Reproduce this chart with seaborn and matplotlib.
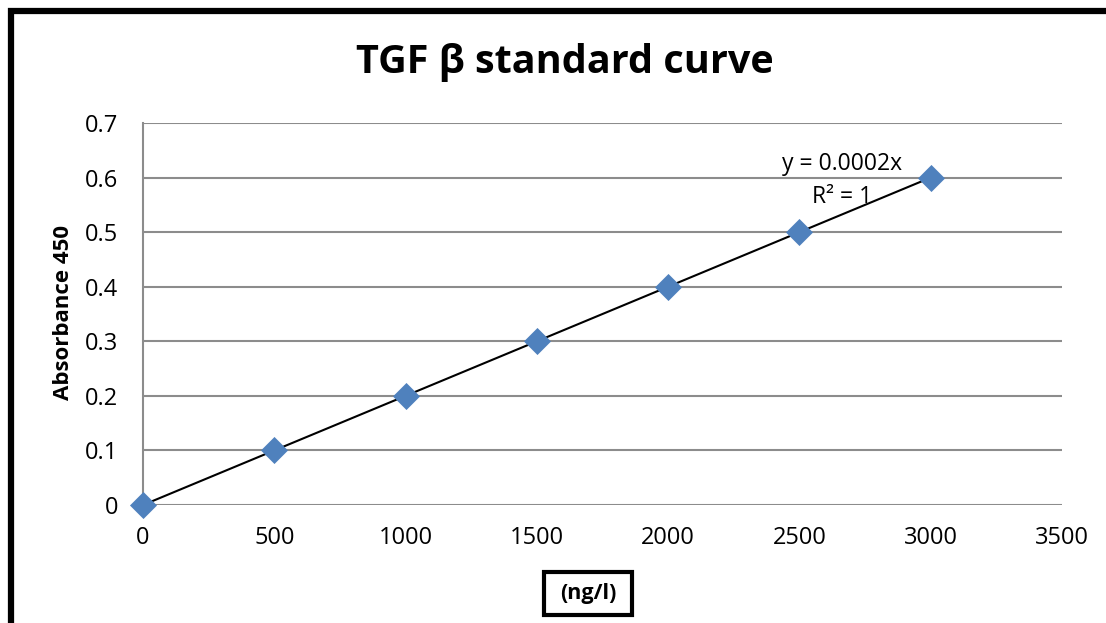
import numpy as np
import pandas as pd
import matplotlib
matplotlib.use("Agg")
import matplotlib.pyplot as plt
import seaborn as sns
from matplotlib.patches import Rectangle

concentration = [0, 500, 1000, 1500, 2000, 2500, 3000]
absorbance = [0, 0.1, 0.2, 0.3, 0.4, 0.5, 0.6]
x_ticks = [0, 500, 1000, 1500, 2000, 2500, 3000, 3500]
y_ticks = [0, 0.1, 0.2, 0.3, 0.4, 0.5, 0.6, 0.7]
y_tick_labels = ["0", "0.1", "0.2", "0.3", "0.4", "0.5", "0.6", "0.7"]

sns.set_theme(style="white")
plt.rcParams["font.family"] = ["Open Sans", "DejaVu Sans"]
plt.rcParams["text.color"] = "black"

df = pd.DataFrame({"conc": concentration, "abs": absorbance})

W, H = 1106, 623
fig = plt.figure(figsize=(W / 100, H / 100), dpi=100)
ax = fig.add_axes([143/W, 1-505/H, (1062-143)/W, (505-123)/H])

# outer chart frame (extends beyond the image on right/bottom)
fig.patches.append(Rectangle((10.5/W, -0.05), 1.2, 1 - 10.5/H + 0.05,
                             transform=fig.transFigure, fill=False,
                             edgecolor="black", linewidth=4.5, zorder=10))

# linear trendline through origin
slope = np.sum(np.array(concentration) * np.array(absorbance)) / np.sum(np.array(concentration) ** 2)
fit = pd.DataFrame({"conc": [min(concentration), max(concentration)]})
fit["abs"] = slope * fit["conc"]
sns.lineplot(data=fit, x="conc", y="abs", ax=ax, color="black", linewidth=1.5, zorder=3)

sns.scatterplot(data=df, x="conc", y="abs", ax=ax, marker="D", s=190,
                color="#4F81BD", edgecolor="#4F81BD", linewidth=0, zorder=4, clip_on=False)

ax.set_xlim(0, 3500)
ax.set_ylim(0, 0.7)
ax.set_xticks(x_ticks)
ax.set_xticklabels([str(t) for t in x_ticks])
ax.set_yticks(y_ticks)
ax.set_yticklabels(y_tick_labels)
ax.tick_params(axis="both", labelsize=17, length=0, colors="black")
ax.tick_params(axis="x", pad=15)
ax.tick_params(axis="y", pad=18)

ax.grid(axis="y", color="#8C8C8C", linewidth=1.5)
ax.grid(axis="x", visible=False)
for side in ["top", "right", "bottom"]:
    ax.spines[side].set_visible(False)
ax.spines["left"].set_color("#8C8C8C")
ax.spines["left"].set_linewidth(1.5)

ax.set_xlabel("")
ax.set_ylabel("Absorbance 450", fontsize=16, fontweight="bold", color="black")
ax.yaxis.set_label_coords((74 - 143) / (1062 - 143), (505 - 312.5) / (505 - 123))

fig.text(565/W, 1-62/H, "TGF β standard curve", fontsize=28.5, fontweight="bold",
         ha="center", va="center")

# x-axis title in a thick black box
fig.patches.append(Rectangle((544/W, 1-615/H), 88/W, 43/H, transform=fig.transFigure,
                             facecolor="white", edgecolor="black", linewidth=3, zorder=5))
fig.text(588/W, 1-594/H, "(ng/l)", fontsize=15.5, fontweight="bold", ha="center", va="center",
         zorder=6)

ax.text(2663, 0.625, "y = 0.0002x", fontsize=16.5, ha="center", va="center")
ax.text(2663, 0.565, "R² = 1", fontsize=16.5, ha="center", va="center")

fig.savefig("out.png", dpi=100)
